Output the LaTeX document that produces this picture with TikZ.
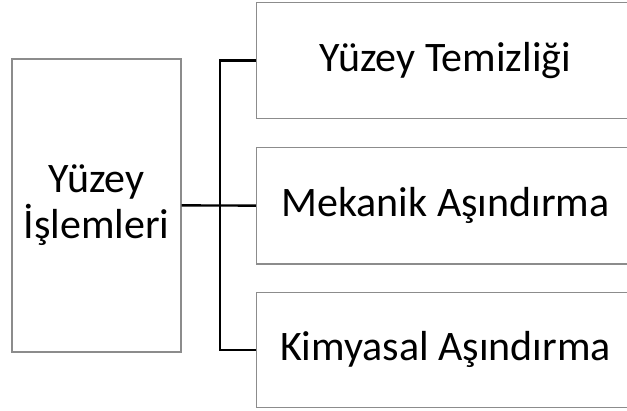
\documentclass[tikz,border=0pt]{standalone}
\usepackage{fontspec}
\setmainfont{Carlito}
\begin{document}
\begin{tikzpicture}[x=1pt,y=1pt,
  box/.style={draw=black!45,line width=1.4pt,fill=white,inner sep=0pt,
    font=\fontsize{42}{46}\selectfont,align=center},
  link/.style={draw=black,line width=2.4pt,line join=miter}]
\useasboundingbox (0,0) rectangle (627,410);
\clip (0,0) rectangle (627,410);
% main topic
\node[box,minimum width=169pt,minimum height=293pt] (L) at (96.5,204.6) {Yüzey\\İşlemleri};
% sub topics
\node[box,minimum width=378pt,minimum height=116pt] (B1) at (445.5,349.4) {Yüzey Temizliği};
\node[box,minimum width=378pt,minimum height=116.5pt] (B2) at (445.5,204.4) {Mekanik Aşındırma};
\node[box,minimum width=378pt,minimum height=115pt] (B3) at (445.5,60.2) {Kimyasal Aşındırma};
% bracket connectors
\coordinate (t) at (220,204.4);
\draw[link] (B1.west) -| (t) |- (B3.west);
\draw[link] (L.east) -- (B2.west);
\end{tikzpicture}
\end{document}
